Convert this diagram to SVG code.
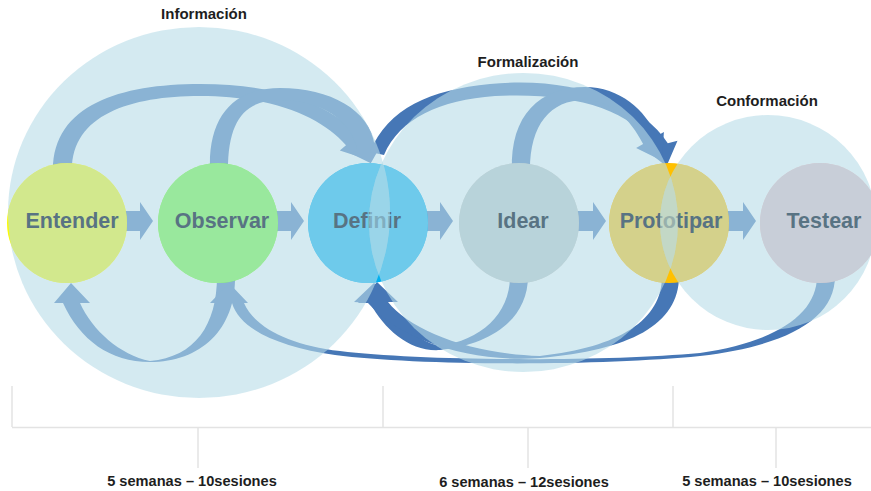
<svg xmlns="http://www.w3.org/2000/svg" width="871" height="491" viewBox="0 0 871 491">
<style>
.phase{fill:#b8dce8;fill-opacity:0.6}
.arrow{fill:#4677b6}
.lbl{font-family:"Liberation Sans",Arial,sans-serif;font-weight:bold;font-size:21.5px;fill:#587383;text-anchor:middle}
.ttl{font-family:"Liberation Sans",Arial,sans-serif;font-weight:bold;font-size:15px;fill:#1e1e1e;text-anchor:middle}
.dur{font-family:"Liberation Sans",Arial,sans-serif;font-weight:bold;font-size:14.6px;fill:#1e1e1e;text-anchor:middle}
.br{stroke:#e3e3e3;stroke-width:1.5;fill:none}
</style>
<defs>
<ellipse id="eInfo" cx="199" cy="212.5" rx="191" ry="185.5"/>
<ellipse id="eForm" cx="523.5" cy="222.5" rx="154.5" ry="149.5"/>
<ellipse id="eConf" cx="768" cy="222.5" rx="108" ry="107.5"/>
<clipPath id="cInfo"><ellipse cx="199" cy="212.5" rx="191" ry="185.5"/></clipPath>
<clipPath id="cConf"><ellipse cx="768" cy="222.5" rx="108" ry="107.5"/></clipPath>
<clipPath id="cEnt"><circle cx="67" cy="223" r="60"/></clipPath>
<clipPath id="cObs"><circle cx="218" cy="223" r="60"/></clipPath>
<clipPath id="cDef"><circle cx="368" cy="223" r="60"/></clipPath>
<clipPath id="cIde"><circle cx="519" cy="223" r="60"/></clipPath>
<clipPath id="cPro"><circle cx="669" cy="223" r="60"/></clipPath>
<clipPath id="cTes"><circle cx="820" cy="223" r="60"/></clipPath>
</defs>

<g id="connectors" class="arrow">
  <!-- straight arrows -->
  <polygon points="123,211 140,211 140,202 153,221 140,240 140,231 123,231"/>
  <polygon points="274,211 291,211 291,202 304,221 291,240 291,231 274,231"/>
  <polygon points="423,211 440,211 440,202 453,221 440,240 440,231 423,231"/>
  <polygon points="576,211 593,211 593,202 606,221 593,240 593,231 576,231"/>
  <polygon points="726,211 743,211 743,202 756,221 743,240 743,231 726,231"/>
  <!-- top: Entender -> Definir -->
  <path d="M53,170 C53,105 120,84 200,84 C280,84 330,105 358,134.8 L364,129.6 L369,160 L339.8,150.4 L346,145.2 C322,118 275,96 200,96 C130,96 72,115 72,170 Z"/>
  <!-- top: Observar -> Definir -->
  <path d="M210,170 C208,115 235,88 280,88 C330,88 370,110 374.6,145.3 L382.2,142.9 L370.8,163.3 L349.8,153.1 L357.4,150.7 C352,120 320,100 280,100 C245,100 228,120 228,170 Z"/>
  <!-- top: Definir -> Prototipar -->
  <path d="M370,152 C388,108 430,90 490,84 C570,76 640,100 667.8,143.2 L677.5,140.7 L666.5,166.3 L644.5,149.3 L654.2,146.8 C630,108 570,92 495,96 C440,100 400,118 384,155 Z"/>
  <!-- top: Idear -> Prototipar -->
  <path d="M512,170 C510,115 540,87 585,87 C620,87 645,110 656.9,136 L663.9,132 L662,160.8 L636.1,148 L643.1,144 C630,118 610,100 585,100 C550,100 530,125 530,170 Z"/>
  <!-- bottom: Observar -> Entender -->
  <path d="M235,276 C236,330 200,362 150,362 C110,362 80,340 63,303 L54,303 L71,283 L90,303 L80,303 C92,330 120,355 150,361 C195,357 217,325 217,276 Z"/>
  <!-- bottom: Testear -> Observar -->
  <path d="M835,276 C835,320 785,346 700,356 C600,366 420,366 335,355 C280,347 240,330 232,303 L210,303 L229,283 L248,303 L244,303 C255,328 290,345 340,351 C420,361 600,362 700,353 C775,342 817,315 817,276 Z"/>
  <!-- bottom: Idear -> Definir -->
  <path d="M528,276 C528,320 490,345 440,350 C410,352 385,330 370,303 L354,302 L374,283 L392,300 L382,300 C400,325 420,342 440,346 C480,340 510,315 510,276 Z"/>
  <!-- bottom: Prototipar -> Definir -->
  <path d="M679,276 C679,325 630,350 540,358 C470,363 400,340 368,303 L358,303 L377,282 L398,302 L388,302 C410,330 470,354 540,356 C620,347 662,320 662,276 Z"/>
</g>

<g id="phase-informacion">
  <use href="#eInfo" class="phase"/>
  <text class="ttl" x="204" y="19">Información</text>
</g>
<g id="phase-formalizacion">
  <use href="#eForm" class="phase"/>
  <text class="ttl" x="528" y="67">Formalización</text>
</g>
<g id="phase-conformacion">
  <use href="#eConf" class="phase"/>
  <text class="ttl" x="767" y="106">Conformación</text>
</g>

<g id="node-entender">
  <circle cx="67" cy="223" r="60" fill="#fafa05"/>
  <g clip-path="url(#cEnt)"><use href="#eInfo" class="phase"/></g>
  <text class="lbl" x="72" y="228">Entender</text>
</g>
<g id="node-observar">
  <circle cx="218" cy="223" r="60" fill="#6dfa2f"/>
  <g clip-path="url(#cObs)"><use href="#eInfo" class="phase"/></g>
  <text class="lbl" x="222" y="228">Observar</text>
</g>
<g id="node-definir">
  <circle cx="368" cy="223" r="60" fill="#00b0f0"/>
  <g clip-path="url(#cDef)"><use href="#eInfo" class="phase"/><use href="#eForm" class="phase"/></g>
  <text class="lbl" x="367" y="228">Definir</text>
  <g clip-path="url(#cDef)"><g clip-path="url(#cInfo)"><use href="#eForm" fill="#9bd5e9" fill-opacity="0.6"/></g></g>
</g>
<g id="node-idear">
  <circle cx="519" cy="223" r="60" fill="#bac5c5"/>
  <g clip-path="url(#cIde)"><use href="#eForm" class="phase"/></g>
  <text class="lbl" x="523" y="228">Idear</text>
</g>
<g id="node-prototipar">
  <circle cx="669" cy="223" r="60" fill="#ffc000"/>
  <g clip-path="url(#cPro)"><use href="#eForm" class="phase"/><use href="#eConf" class="phase"/></g>
  <text class="lbl" x="671" y="228">Prototipar</text>
  <g clip-path="url(#cPro)"><g clip-path="url(#cConf)"><use href="#eForm" fill="#c3d8c8" fill-opacity="0.6"/></g></g>
</g>
<g id="node-testear">
  <circle cx="820" cy="223" r="60" fill="#e0b9c0"/>
  <g clip-path="url(#cTes)"><use href="#eConf" class="phase"/></g>
  <text class="lbl" x="824" y="228">Testear</text>
</g>

<g id="timeline">
  <path class="br" d="M12,386 V427 M383,386 V427 M673,386 V427 M12,427.5 H871 M198,428 V468 M528,428 V468 M776,428 V468"/>
  <text class="dur" x="192" y="486">5 semanas – 10sesiones</text>
  <text class="dur" x="524" y="487">6 semanas – 12sesiones</text>
  <text class="dur" x="767" y="486">5 semanas – 10sesiones</text>
</g>
</svg>
